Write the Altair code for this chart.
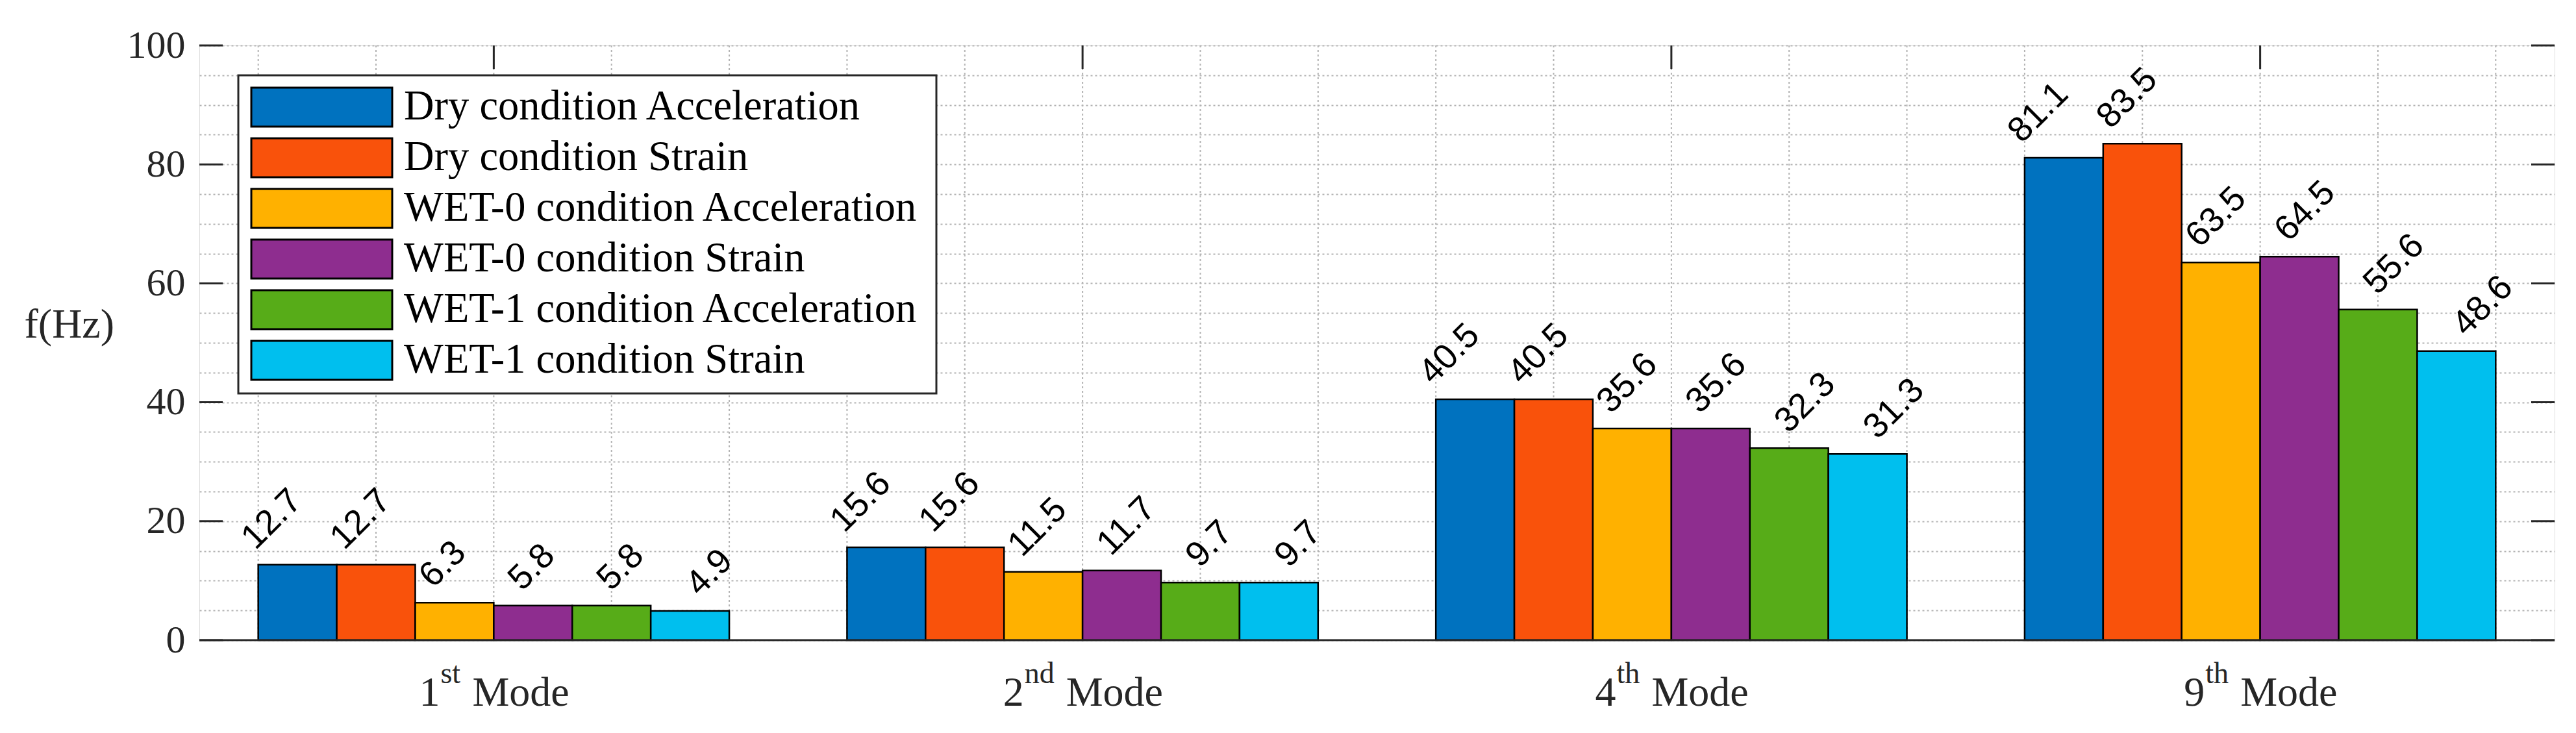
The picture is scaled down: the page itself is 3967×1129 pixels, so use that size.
import altair as alt
import pandas as pd

# ---------------- data ----------------
mode_numbers = ["1", "2", "4", "9"]
mode_sups = ["st", "nd", "th", "th"]
mode_word = "Mode"
series = [
    "Dry condition Acceleration",
    "Dry condition Strain",
    "WET-0 condition Acceleration",
    "WET-0 condition Strain",
    "WET-1 condition Acceleration",
    "WET-1 condition Strain",
]
colors = ["#0072BF", "#F9520B", "#FFB100", "#8E2D8F", "#57AC18", "#00BFEE"]
dry_acc = [12.7, 15.6, 40.5, 81.1]
dry_str = [12.7, 15.6, 40.5, 83.5]
wet0_acc = [6.3, 11.5, 35.6, 63.5]
wet0_str = [5.8, 11.7, 35.6, 64.5]
wet1_acc = [5.8, 9.7, 32.3, 55.6]
wet1_str = [4.9, 9.7, 31.3, 48.6]
y_label_ticks = [0, 20, 40, 60, 80, 100]
y_grid = [0, 5, 10, 15, 20, 25, 30, 35, 40, 45, 50, 55, 60, 65, 70, 75, 80, 85, 90, 95, 100]
x_major = [1, 2, 3, 4]
x_grid = [0.6, 0.8, 1.0, 1.2, 1.4, 1.6, 1.8, 2.0, 2.2, 2.4, 2.6, 2.8, 3.0, 3.2, 3.4,
          3.6, 3.8, 4.0, 4.2, 4.4]
y_title = "f(Hz)"

all_series = [dry_acc, dry_str, wet0_acc, wet0_str, wet1_acc, wet1_str]
rows = []
for si, (name, vals) in enumerate(zip(series, all_series)):
    for mi, v in enumerate(vals):
        rows.append({"mode": mi + 1, "series": name, "s": si, "value": v})
df = pd.DataFrame(rows)
modes_df = pd.DataFrame({"mode": x_major, "num": mode_numbers, "sup": mode_sups,
                         "word": [mode_word] * 4})
legend_df = pd.DataFrame({"series": series})
ytick_df = pd.DataFrame({"t": y_label_ticks})
xtick_df = pd.DataFrame({"t": x_major})
xgrid_df = pd.DataFrame({"g": x_grid})
one_df = pd.DataFrame({"a": [0]})

# ---------------- layout ----------------
W, H = 3627, 916
PXU = W / 4.0  # pixels per x unit
SERIF = "Liberation Serif"
SANS = "Liberation Sans"
AX = "#262626"
GRID = "#b3b3b3"

xs = alt.Scale(domain=[0.5, 4.5], nice=False, zero=False)
ys = alt.Scale(domain=[0, 100], nice=False)
color = alt.Color("series:N", scale=alt.Scale(domain=series, range=colors), legend=None)

vgrid = alt.Chart(xgrid_df).mark_rule(color=GRID, strokeWidth=2, strokeDash=[3, 4]).encode(
    x=alt.X("g:Q", scale=xs, axis=None), y=alt.value(0), y2=alt.value(H))

bars = alt.Chart(df).transform_calculate(
    x0="datum.mode - 0.4 + datum.s * 0.8 / 6",
    x1="datum.mode - 0.4 + (datum.s + 1) * 0.8 / 6",
).mark_bar(stroke="black", strokeWidth=2.5).encode(
    x=alt.X("x0:Q", scale=xs, axis=None),
    x2="x1:Q",
    y=alt.Y("value:Q", scale=ys,
            axis=alt.Axis(values=y_grid, grid=True, ticks=False, tickSize=0, domain=False,
                          labelExpr="datum.value % 20 == 0 ? datum.label : ''",
                          labelFont=SERIF, labelFontSize=60, labelColor=AX,
                          labelPadding=22, gridColor=GRID, gridDash=[3, 4],
                          gridWidth=2, title=y_title, titleAngle=0, titleAlign="left",
                          titleBaseline="middle", titleX=-270, titleY=430,
                          titleFont=SERIF, titleFontSize=64, titleFontWeight="normal",
                          titleColor=AX)),
    y2=alt.datum(0),
    fill=color,
)

left_ticks = alt.Chart(ytick_df).mark_rule(color=AX, strokeWidth=3).encode(
    y=alt.Y("t:Q", scale=ys, axis=None), x=alt.value(0), x2=alt.value(36))
right_ticks = alt.Chart(ytick_df).mark_rule(color=AX, strokeWidth=3).encode(
    y=alt.Y("t:Q", scale=ys, axis=None), x=alt.value(W - 36), x2=alt.value(W))
top_ticks = alt.Chart(xtick_df).mark_rule(color=AX, strokeWidth=3).encode(
    x=alt.X("t:Q", scale=xs, axis=None), y=alt.value(0), y2=alt.value(36))

value_labels = alt.Chart(df).transform_calculate(
    lx="datum.mode - 0.405 + datum.s * 0.151",
    ly="datum.value + 2.3",
).mark_text(angle=315, align="left", baseline="alphabetic", font=SANS,
            fontSize=54, color="black").encode(
    x=alt.X("lx:Q", scale=xs, axis=None),
    y=alt.Y("ly:Q", scale=ys, axis=None),
    text=alt.Text("value:Q", format=".1f"),
)

# x tick labels: number + superscript + "Mode", centred as a whole on the tick
xlab = alt.Chart(modes_df).transform_calculate(
    supw="datum.sup == 'st' ? 31 : (datum.sup == 'nd' ? 46 : 36)",
).transform_calculate(
    lft="-(32 + datum.supw + 18 + 149) / 2",
).transform_calculate(
    xn=f"datum.mode + datum.lft / {PXU}",
    xsup=f"datum.mode + (datum.lft + 33) / {PXU}",
    xw=f"datum.mode + (datum.lft + 33 + datum.supw + 18) / {PXU}",
)
num_text = xlab.mark_text(align="left", baseline="alphabetic", font=SERIF,
                          fontSize=64, color=AX).encode(
    x=alt.X("xn:Q", scale=xs, axis=None), y=alt.value(H + 101), text="num:N")
sup_text = xlab.mark_text(align="left", baseline="alphabetic", font=SERIF,
                          fontSize=46, color=AX).encode(
    x=alt.X("xsup:Q", scale=xs, axis=None), y=alt.value(H + 66), text="sup:N")
word_text = xlab.mark_text(align="left", baseline="alphabetic", font=SERIF,
                           fontSize=64, color=AX).encode(
    x=alt.X("xw:Q", scale=xs, axis=None), y=alt.value(H + 101), text="word:N")

bottom_line = alt.Chart(one_df).mark_rule(color=AX, strokeWidth=3).encode(
    x=alt.value(0), x2=alt.value(W), y=alt.value(H))

legend_box = alt.Chart(one_df).mark_rect(fill="white", stroke=AX, strokeWidth=3).encode(
    x=alt.value(60), x2=alt.value(1135), y=alt.value(46), y2=alt.value(536))
leg_scale = alt.Scale(domain=series, range=[56, 524], paddingInner=0.23, paddingOuter=0.115)
legend_sw = alt.Chart(legend_df).mark_rect(stroke="black", strokeWidth=3).encode(
    y=alt.Y("series:N", scale=leg_scale, axis=None),
    x=alt.value(80), x2=alt.value(297), fill=color)
legend_tx = alt.Chart(legend_df).mark_text(align="left", baseline="middle", font=SERIF,
                                           fontSize=64.5, color="black").encode(
    y=alt.Y("series:N", scale=leg_scale, axis=None),
    x=alt.value(315), text="series:N")

chart = alt.layer(
    vgrid, bars, left_ticks, right_ticks, top_ticks, bottom_line, value_labels,
    legend_box, legend_sw, legend_tx, num_text, sup_text, word_text,
).resolve_scale(y="independent").properties(
    width=W, height=H,
    padding={"left": 299, "top": 62, "right": 20, "bottom": 140},
    autosize=alt.AutoSizeParams(type="none"),
).configure_view(stroke=AX, strokeWidth=3).configure(background="white")

chart.save("out.html", embed_options={"renderer": "svg", "actions": False})
